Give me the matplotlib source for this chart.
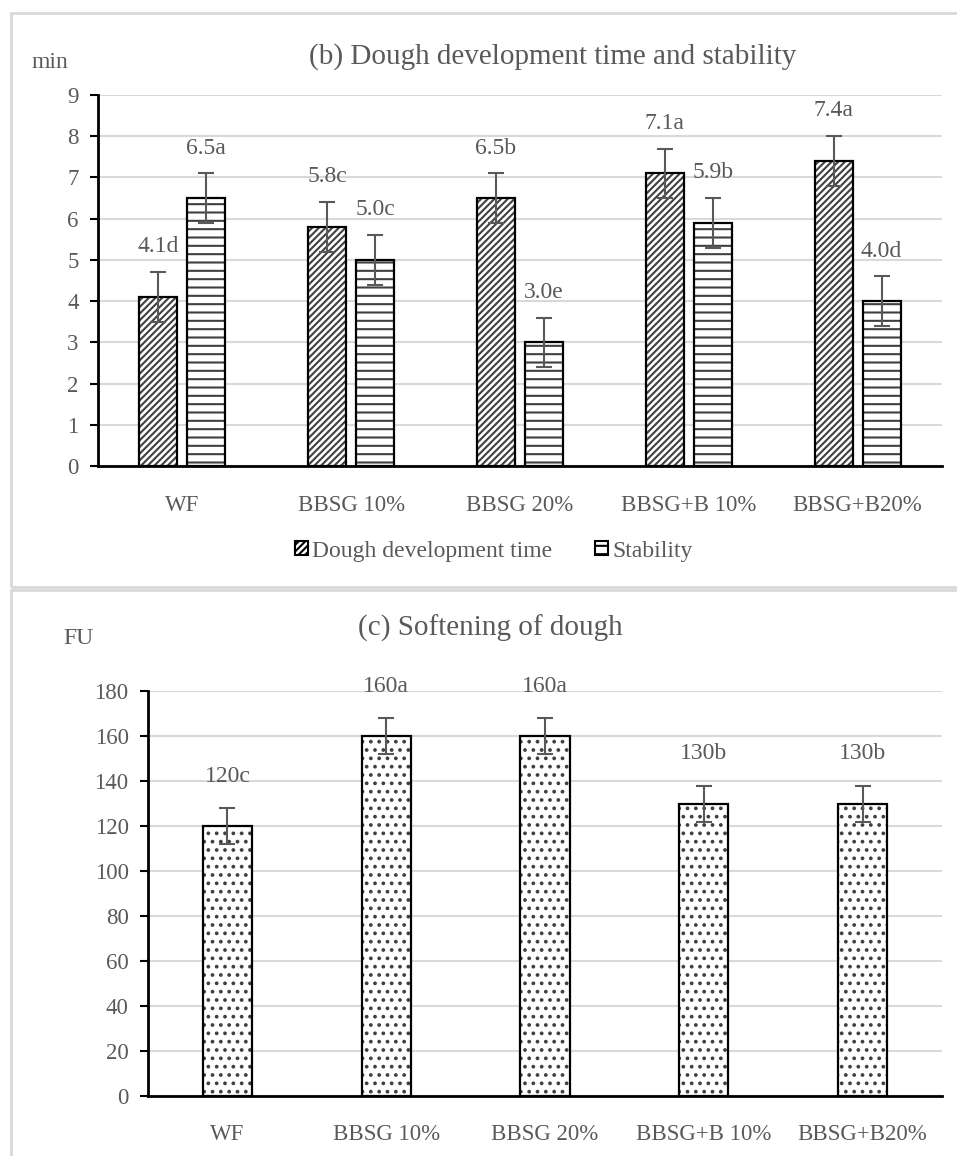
import numpy as np
import matplotlib
matplotlib.use('Agg')
import matplotlib.pyplot as plt
from matplotlib.patches import Patch, Rectangle

plt.rcParams['font.family'] = ['Liberation Serif', 'DejaVu Serif']

# data
groups = ['WF', 'BBSG 10%', 'BBSG 20%', 'BBSG+B 10%', 'BBSG+B20%']
ddt = [4.1, 5.8, 6.5, 7.1, 7.4]
ddt_err = [0.6, 0.6, 0.6, 0.6, 0.6]
ddt_lab = ['4.1d', '5.8c', '6.5b', '7.1a', '7.4a']
stab = [6.5, 5.0, 3.0, 5.9, 4.0]
stab_err = [0.6, 0.6, 0.6, 0.6, 0.6]
stab_lab = ['6.5a', '5.0c', '3.0e', '5.9b', '4.0d']
soft = [120, 160, 160, 130, 130]
soft_err = [8, 8, 8, 8, 8]
soft_lab = ['120c', '160a', '160a', '130b', '130b']

W, H = 957, 1156
txt = '#595959'
grid = '#D9D9D9'
hcol = '#404040'

fig = plt.figure(figsize=(W / 100, H / 100), dpi=100)

# panel frames
fig.patches.append(Rectangle((11 / W, 1 - 587 / H), 1.0, 574 / H, transform=fig.transFigure,
                             fill=False, edgecolor=grid, lw=2))
fig.patches.append(Rectangle((11 / W, -0.05), 1.0, 1 - 590 / H + 0.05, transform=fig.transFigure,
                             fill=False, edgecolor=grid, lw=2))


def style_axes(ax, xpad):
    for s in ['top', 'right']:
        ax.spines[s].set_visible(False)
    for s in ['left', 'bottom']:
        ax.spines[s].set_linewidth(2)
        ax.spines[s].set_color('black')
    ax.yaxis.grid(True, color=grid, lw=1.5)
    ax.set_axisbelow(True)
    ax.tick_params(axis='y', direction='out', length=6, width=1.5, color='black',
                   labelsize=16.5, labelcolor=txt, pad=8)
    ax.tick_params(axis='x', length=0, labelsize=16.5, labelcolor=txt, pad=xpad)


def hatched_bars(ax, x, h, w, hatch):
    ax.bar(x, h, w, color='white', edgecolor=hcol, lw=0, hatch=hatch, zorder=2)
    ax.bar(x, h, w, fill=False, edgecolor='black', lw=1.6, zorder=3)


plt.rcParams['hatch.linewidth'] = 1.5

# (b) top chart
ax1 = fig.add_axes([98 / W, 1 - 466 / H, 844 / W, 371 / H])
x = np.arange(len(groups))
bw = 0.225
off = 0.142
hatched_bars(ax1, x - off, ddt, bw, '/////')
hatched_bars(ax1, x + off, stab, bw, '--')
ax1.errorbar(x - off, ddt, yerr=ddt_err, fmt='none', ecolor=txt, elinewidth=1.5,
             capsize=6, capthick=1.5, zorder=4)
ax1.errorbar(x + off, stab, yerr=stab_err, fmt='none', ecolor=txt, elinewidth=1.5,
             capsize=6, capthick=1.5, zorder=4)
for xi, v, l in zip(x - off, ddt, ddt_lab):
    ax1.annotate(l, (xi, v), xytext=(0, 36), textcoords='offset points',
                 ha='center', va='center', fontsize=17, color=txt)
for xi, v, l in zip(x + off, stab, stab_lab):
    ax1.annotate(l, (xi, v), xytext=(0, 36), textcoords='offset points',
                 ha='center', va='center', fontsize=17, color=txt)
ax1.set_xlim(-0.5, 4.5)
ax1.set_ylim(0, 9)
ax1.set_yticks(range(0, 10))
ax1.set_xticks(x)
ax1.set_xticklabels(groups)
style_axes(ax1, 21)

fig.text(553 / W, 1 - 57 / H, '(b) Dough development time and stability', ha='center',
         va='center', fontsize=21, color=txt)
fig.text(31 / W, 1 - 62 / H, 'min', ha='left', va='center', fontsize=17, color=txt)

handles = [Patch(facecolor='white', edgecolor='black', hatch='/////', lw=1.5),
           Patch(facecolor='white', edgecolor='black', hatch='--', lw=1.5)]
fig.legend(handles, ['Dough development time', 'Stability'], loc='center',
           bbox_to_anchor=(494 / W, 1 - 551 / H), ncol=2, frameon=False,
           fontsize=17, labelcolor=txt, handlelength=0.55, handleheight=0.55,
           handletextpad=0.2, columnspacing=1.8)

# (c) bottom chart
ax2 = fig.add_axes([148 / W, 1 - 1096 / H, 794 / W, 405 / H])
hatched_bars(ax2, x, soft, 0.31, '..')
ax2.errorbar(x, soft, yerr=soft_err, fmt='none', ecolor=txt, elinewidth=1.5,
             capsize=6, capthick=1.5, zorder=4)
for xi, v, l in zip(x, soft, soft_lab):
    ax2.annotate(l, (xi, v), xytext=(0, 36), textcoords='offset points',
                 ha='center', va='center', fontsize=17, color=txt)
ax2.set_xlim(-0.5, 4.5)
ax2.set_ylim(0, 180)
ax2.set_yticks(range(0, 181, 20))
ax2.set_xticks(x)
ax2.set_xticklabels(groups)
style_axes(ax2, 20)

fig.text(490 / W, 1 - 628 / H, '(c) Softening of dough', ha='center', va='center',
         fontsize=21, color=txt)
fig.text(63 / W, 1 - 638 / H, 'FU', ha='left', va='center', fontsize=17, color=txt)

fig.savefig('out.png', dpi=100)
